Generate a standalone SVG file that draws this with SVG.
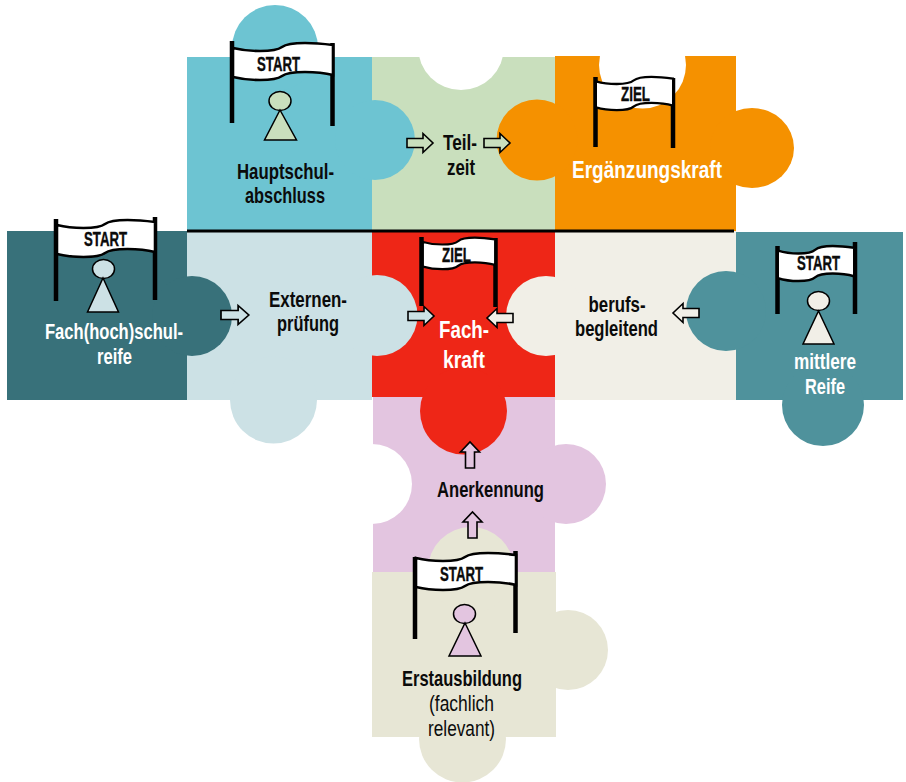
<svg xmlns="http://www.w3.org/2000/svg" xmlns:xlink="http://www.w3.org/1999/xlink" width="906" height="782" viewBox="0 0 906 782">
<style>
text{font-family:"Liberation Sans Narrow","Liberation Sans",Arial,sans-serif;font-weight:700;font-size:22px;fill:#0b0b0b}
.w{fill:#fff}
.big{font-size:24px}
.reg{font-weight:400;font-size:21.500px}
.flagt{font-size:20px;stroke:#0b0b0b;stroke-width:.4}
.zielt{font-size:20px;stroke:#0b0b0b;stroke-width:.4}
.pole{stroke:#000;stroke-width:4.5;fill:none}
.banner{fill:#fff;stroke:#000;stroke-width:2.6;vector-effect:non-scaling-stroke}
.pawn{stroke:#000;stroke-width:1.5;stroke-linejoin:miter}
.arrow{stroke:#000;stroke-width:1.6;stroke-linejoin:miter}
</style>
<defs>
<path id="banner" d="M0,7C8,9 18,10 27,10C38,10 45,9 49,6C53,3 60,2 72,2C84,2 92,3 100,4V34C92,32 84,31 72,31C60,31 53,32 49,35C45,38 38,39 27,39C18,39 8,38 0,36Z"/>
<path id="arrow" d="M0,-4.5H16V-9.5L26,0L16,9.5V4.5H0Z"/>
</defs>
<rect width="906" height="782" fill="#fff"/>

<g id="node-teilzeit">
<rect x="372" y="57" width="184" height="174" fill="#C9DFBD"/>
<circle cx="461" cy="47" r="43" fill="#fff"/>
<text x="460" y="150" text-anchor="middle" textLength="34" lengthAdjust="spacingAndGlyphs">Teil-</text>
<text x="461" y="175" text-anchor="middle" textLength="28" lengthAdjust="spacingAndGlyphs">zeit</text>
</g>

<g id="node-ergaenzungskraft">
<rect x="555" y="56" width="181" height="175" fill="#F59100"/>
<circle cx="537" cy="140" r="40.5" fill="#F59100"/>
<ellipse cx="752" cy="148" rx="42" ry="40" fill="#F59100"/>
<circle cx="642.5" cy="65" r="43.5" fill="#fff"/>
<rect x="599" y="30" width="88" height="26" fill="#fff"/>
<path class="pole" d="M595.5,77V147M673,78V148"/>
<use href="#banner" class="banner" transform="translate(596,75) scale(.77,.9)"/>
<text class="zielt" x="635.5" y="101" text-anchor="middle" textLength="29" lengthAdjust="spacingAndGlyphs">ZIEL</text>
<text class="big w" x="647" y="178" text-anchor="middle" textLength="150" lengthAdjust="spacingAndGlyphs">Ergänzungskraft</text>
</g>

<g id="node-anerkennung">
<rect x="373" y="397" width="182" height="175" fill="#E3C5E0"/>
<circle cx="566" cy="484" r="40" fill="#E3C5E0"/>
<circle cx="372" cy="484" r="40" fill="#fff"/>
<rect x="360" y="444" width="13" height="80" fill="#fff"/>
<text x="490.5" y="497" text-anchor="middle" textLength="107" lengthAdjust="spacingAndGlyphs">Anerkennung</text>
</g>

<g id="node-fachkraft">
<rect x="372" y="231" width="183" height="166" fill="#EE2617"/>
<circle cx="463.5" cy="411" r="43.5" fill="#EE2617"/>
<path class="pole" d="M421.5,237V306M495.5,238V307"/>
<use href="#banner" class="banner" transform="translate(423,236) scale(.72,.85)"/>
<text class="zielt" x="456.5" y="262" text-anchor="middle" textLength="29" lengthAdjust="spacingAndGlyphs">ZIEL</text>
<text class="big w" x="464" y="338" text-anchor="middle" textLength="50" lengthAdjust="spacingAndGlyphs">Fach-</text>
<text class="big w" x="464" y="368" text-anchor="middle" textLength="42" lengthAdjust="spacingAndGlyphs">kraft</text>
</g>

<g id="node-externenpruefung">
<rect x="187" y="231" width="185" height="169" fill="#CCE1E5"/>
<circle cx="273.5" cy="400" r="43.5" fill="#CCE1E5"/>
<circle cx="377" cy="315.5" r="40.5" fill="#CCE1E5"/>
<text x="308" y="307" text-anchor="middle" textLength="78" lengthAdjust="spacingAndGlyphs">Externen-</text>
<text x="308" y="331" text-anchor="middle" textLength="62" lengthAdjust="spacingAndGlyphs">prüfung</text>
</g>

<g id="node-berufsbegleitend">
<rect x="555" y="231" width="181" height="169" fill="#F1EFE7"/>
<circle cx="546" cy="316" r="40" fill="#F1EFE7"/>
<text x="617" y="312" text-anchor="middle" textLength="57" lengthAdjust="spacingAndGlyphs">berufs-</text>
<text x="616.5" y="336" text-anchor="middle" textLength="83" lengthAdjust="spacingAndGlyphs">begleitend</text>
</g>

<g id="node-hauptschulabschluss">
<rect x="187" y="57" width="185" height="174" fill="#6DC4D2"/>
<circle cx="275" cy="48" r="43" fill="#6DC4D2"/>
<circle cx="375" cy="140" r="40" fill="#6DC4D2"/>
<path class="pole" d="M232,41V123M332.5,43V126"/>
<use href="#banner" class="banner" transform="translate(233,41)"/>
<text class="flagt" x="278.5" y="71" text-anchor="middle" textLength="43" lengthAdjust="spacingAndGlyphs">START</text>
<ellipse class="pawn" cx="280" cy="101" rx="11" ry="9.5" fill="#C9DFBD"/>
<path class="pawn" d="M280,110L296.500,140H264.500Z" fill="#C9DFBD"/>
<text x="285.5" y="179" text-anchor="middle" textLength="97" lengthAdjust="spacingAndGlyphs">Hauptschul-</text>
<text x="285" y="203" text-anchor="middle" textLength="80" lengthAdjust="spacingAndGlyphs">abschluss</text>
</g>

<g id="node-fachhochschulreife">
<rect x="7" y="231" width="180" height="169" fill="#38717A"/>
<circle cx="192" cy="316" r="40" fill="#38717A"/>
<path class="pole" d="M56,219V301M155,217V300"/>
<use href="#banner" class="banner" transform="translate(57,218) scale(.98,1)"/>
<text class="flagt" x="105.500" y="246" text-anchor="middle" textLength="43" lengthAdjust="spacingAndGlyphs">START</text>
<ellipse class="pawn" cx="103.500" cy="269" rx="11" ry="9.5" fill="#CCE1E5"/>
<path class="pawn" d="M103,278L118.500,312H87.500Z" fill="#CCE1E5"/>
<text class="w" x="114" y="339" text-anchor="middle" textLength="138" lengthAdjust="spacingAndGlyphs">Fach(hoch)schul-</text>
<text class="w" x="114.500" y="364" text-anchor="middle" textLength="35" lengthAdjust="spacingAndGlyphs">reife</text>
</g>

<g id="node-mittlere-reife">
<rect x="736" y="232" width="167" height="168" fill="#4F929C"/>
<circle cx="823" cy="405" r="41" fill="#4F929C"/>
<circle cx="726" cy="311" r="40" fill="#4F929C"/>
<path class="pole" d="M777.500,246V314M855,242V314"/>
<use href="#banner" class="banner" transform="translate(778,244) scale(.76,.95)"/>
<text class="flagt" x="818.500" y="270" text-anchor="middle" textLength="43" lengthAdjust="spacingAndGlyphs">START</text>
<ellipse class="pawn" cx="818.500" cy="301" rx="11" ry="9.5" fill="#F1EFE7"/>
<path class="pawn" d="M818.500,311L834,344H803Z" fill="#F1EFE7"/>
<text class="w" x="825" y="369" text-anchor="middle" textLength="62" lengthAdjust="spacingAndGlyphs">mittlere</text>
<text class="w" x="825" y="394" text-anchor="middle" textLength="40" lengthAdjust="spacingAndGlyphs">Reife</text>
</g>

<g id="node-erstausbildung">
<rect x="372" y="572" width="184" height="165" fill="#E7E6D5"/>
<circle cx="471" cy="570" r="43" fill="#E7E6D5"/>
<circle cx="568" cy="650" r="40" fill="#E7E6D5"/>
<circle cx="462.500" cy="739" r="43.500" fill="#E7E6D5"/>
<path class="pole" d="M415,557V639M515.500,551V633"/>
<use href="#banner" class="banner" transform="translate(416,551)"/>
<text class="flagt" x="461.500" y="581" text-anchor="middle" textLength="43" lengthAdjust="spacingAndGlyphs">START</text>
<ellipse class="pawn" cx="464.500" cy="614" rx="11" ry="9.5" fill="#E3C5E0"/>
<path class="pawn" d="M465,623L481,656H449Z" fill="#E3C5E0"/>
<text x="462" y="686" text-anchor="middle" textLength="120" lengthAdjust="spacingAndGlyphs">Erstausbildung</text>
<text class="reg" x="461.500" y="711" text-anchor="middle" textLength="65" lengthAdjust="spacingAndGlyphs">(fachlich</text>
<text class="reg" x="461.500" y="736" text-anchor="middle" textLength="67" lengthAdjust="spacingAndGlyphs">relevant)</text>
</g>

<line id="divider" x1="187" y1="231" x2="734" y2="231" stroke="#000" stroke-width="3"/>

<g id="connectors">
<use href="#arrow" class="arrow" fill="#C9DFBD" transform="translate(407,143)"/>
<use href="#arrow" class="arrow" fill="#C9DFBD" transform="translate(484,143)"/>
<use href="#arrow" class="arrow" fill="#CCE1E5" transform="translate(221,315) scale(1.07,1)"/>
<use href="#arrow" class="arrow" fill="#CCE1E5" transform="translate(408,316)"/>
<use href="#arrow" class="arrow" fill="#F1EFE7" transform="translate(513,318) rotate(180)"/>
<use href="#arrow" class="arrow" fill="#F1EFE7" transform="translate(699,313) rotate(180)"/>
<use href="#arrow" class="arrow" fill="#E3C5E0" transform="translate(470,468) rotate(-90)"/>
<use href="#arrow" class="arrow" fill="#E3C5E0" transform="translate(472.500,538) rotate(-90)"/>
</g>
</svg>
